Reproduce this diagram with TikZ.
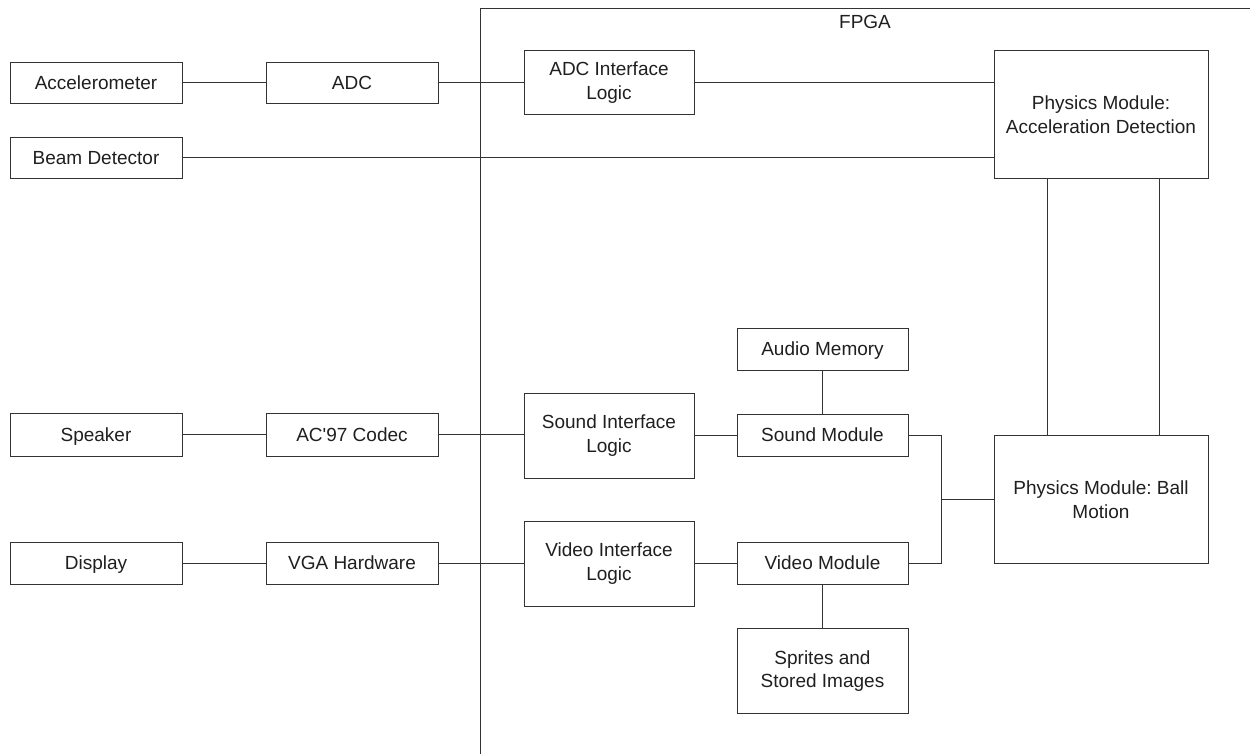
\documentclass[tikz,border=0pt]{standalone}
\usepackage{fontspec}
\setmainfont{Liberation Sans}
\newfontfamily\straightfont{Liberation Sans}[Ligatures=ResetAll]
\frenchspacing
\begin{document}
\begin{tikzpicture}[x=1pt,y=-1pt,
  blk/.style={draw=black!80, line width=1pt, inner sep=0pt, align=center,
    text=black!88, font=\fontsize{19}{23.5}\selectfont},
  one/.style={text height=13.6, text depth=0},
  wire/.style={draw=black!80, line width=1pt}]
\useasboundingbox (0,0) rectangle (1250,753);
% FPGA frame
\coordinate (fr1) at (1252,8.5);
\coordinate (fr0) at (480.5,8.5);
\coordinate (fr2) at (480.5,755);
\draw[wire] (fr1) -- (fr0) -- (fr2);
\node[font=\fontsize{19}{23}\selectfont, text=black!88, text height=13.6, text depth=0, inner sep=0pt] (fpga) at (865,22) {FPGA};
% left column
\node[blk, one, minimum width=172, minimum height=41] (acc) at (96,82.5) {Accelerometer};
\node[blk, one, minimum width=172, minimum height=41] (adc) at (352,82.5) {ADC};
\node[blk, one, minimum width=172, minimum height=41] (beam) at (96,157.5) {Beam Detector};
\node[blk, one, minimum width=172, minimum height=43] (spk) at (96,434.5) {Speaker};
\node[blk, one, minimum width=172, minimum height=43] (ac97) at (352,434.5) {\straightfont AC'97 Codec};
\node[blk, one, minimum width=172, minimum height=42] (disp) at (96,563) {Display};
\node[blk, one, minimum width=172, minimum height=42] (vga) at (352,563) {VGA Hardware};
% interfaces
\node[blk, minimum width=170, minimum height=64] (adcif) at (609,82.5) {ADC Interface\\Logic};
\node[blk, minimum width=170, minimum height=85] (sndif) at (609,435.5) {Sound Interface\\Logic};
\node[blk, minimum width=170, minimum height=85] (vidif) at (609,563.5) {Video Interface\\Logic};
% modules
\node[blk, one, minimum width=171, minimum height=42] (amem) at (822.5,349) {Audio Memory};
\node[blk, one, minimum width=171, minimum height=42] (smod) at (822.5,435) {Sound Module};
\node[blk, one, minimum width=171, minimum height=42] (vmod) at (822.5,563) {Video Module};
\node[blk, minimum width=171, minimum height=85] (spr) at (822.5,671) {Sprites and\\Stored Images};
% physics
\node[blk, minimum width=214, minimum height=128] (phacc) at (1101,114.5) {Physics Module:\\Acceleration Detection};
\node[blk, minimum width=214, minimum height=128] (ball) at (1101,499.5) {Physics Module: Ball\\Motion};
% connectors
\draw[wire] (acc) -- (adc);
\draw[wire] (adc.east) -- (adc.east -| adcif.west);
\draw[wire] (adc.east -| adcif.east) -- (adc.east -| phacc.west);
\draw[wire] (beam.east) -- (beam.east -| phacc.west);
\coordinate (va) at (1047,0);
\coordinate (vb) at (1159,0);
\draw[wire] (phacc.south -| va) -- (ball.north -| va);
\draw[wire] (phacc.south -| vb) -- (ball.north -| vb);
\draw[wire] (spk) -- (ac97);
\draw[wire] (ac97.east) -- (ac97.east -| sndif.west);
\draw[wire] (smod.west -| sndif.east) -- (smod.west);
\draw[wire] (amem) -- (smod);
\draw[wire] (disp) -- (vga);
\draw[wire] (vga.east) -- (vga.east -| vidif.west);
\draw[wire] (vmod.west -| vidif.east) -- (vmod.west);
\draw[wire] (vmod) -- (spr);
\coordinate (j) at (941,499);
\draw[wire] (smod.east) -| (j) |- (vmod.east);
\draw[wire] (j) -- (j -| ball.west);
\end{tikzpicture}
\end{document}
